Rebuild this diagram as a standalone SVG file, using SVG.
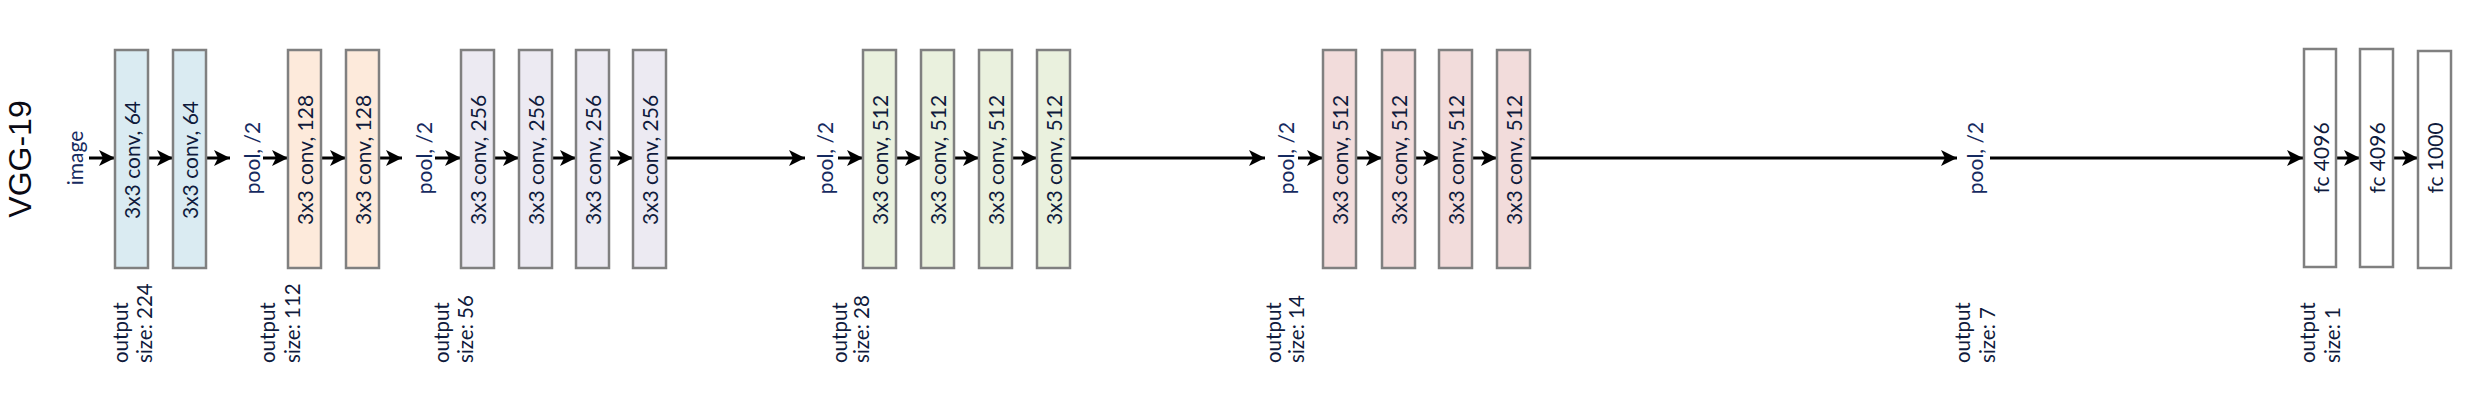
<svg xmlns="http://www.w3.org/2000/svg" width="2476" height="400" viewBox="0 0 2476 400">
<style>
  .box { stroke: #808080; stroke-width: 2.5; }
  .blue { fill: #DAEBF2; }
  .peach { fill: #FDEADB; }
  .lav { fill: #ECEAF2; }
  .green { fill: #EAF1DE; }
  .pink { fill: #F2DCDB; }
  .white { fill: #FFFFFF; }
  .lbl { font-family: Lato, "Liberation Sans", sans-serif; font-size: 21px; fill: #0f1a3c; text-anchor: middle; dominant-baseline: central; }
  .pool { font-family: Lato, "Liberation Sans", sans-serif; font-size: 21px; fill: #152a60; text-anchor: middle; dominant-baseline: central; }
  .out { font-family: Lato, "Liberation Sans", sans-serif; font-size: 20.5px; fill: #0f1a3c; text-anchor: start; dominant-baseline: central; }
  .title { font-family: "Liberation Sans", Arial, sans-serif; font-size: 32px; fill: #0a0a14; text-anchor: middle; dominant-baseline: central; }
  .conn { stroke: #000000; stroke-width: 3; fill: none; marker-end: url(#ah); }
</style>
<defs>
  <marker id="ah" markerUnits="userSpaceOnUse" markerWidth="17" markerHeight="18" refX="16" refY="9" orient="auto">
    <path d="M0,1 L16,9 L0,17 L4,9 Z" fill="#000000"/>
  </marker>
</defs>
<rect width="2476" height="400" fill="#FFFFFF"/>

<text class="title" transform="translate(20,159) rotate(-90)">VGG-19</text>
<g id="image"><text class="pool" transform="translate(74,158) rotate(-90)">image</text></g>

<g id="connectors">
  <line class="conn" x1="89" y1="158" x2="115" y2="158"/>
  <line class="conn" x1="148" y1="158" x2="173" y2="158"/>
  <line class="conn" x1="206" y1="158" x2="230" y2="158"/>
  <line class="conn" x1="263" y1="158" x2="288" y2="158"/>
  <line class="conn" x1="321" y1="158" x2="346" y2="158"/>
  <line class="conn" x1="379" y1="158" x2="402" y2="158"/>
  <line class="conn" x1="435" y1="158" x2="461" y2="158"/>
  <line class="conn" x1="494" y1="158" x2="519" y2="158"/>
  <line class="conn" x1="552" y1="158" x2="576" y2="158"/>
  <line class="conn" x1="609" y1="158" x2="633" y2="158"/>
  <line class="conn" x1="666" y1="158" x2="805" y2="158"/>
  <line class="conn" x1="838" y1="158" x2="863" y2="158"/>
  <line class="conn" x1="896" y1="158" x2="921" y2="158"/>
  <line class="conn" x1="954" y1="158" x2="979" y2="158"/>
  <line class="conn" x1="1012" y1="158" x2="1037" y2="158"/>
  <line class="conn" x1="1070" y1="158" x2="1265" y2="158"/>
  <line class="conn" x1="1298" y1="158" x2="1323" y2="158"/>
  <line class="conn" x1="1356" y1="158" x2="1382" y2="158"/>
  <line class="conn" x1="1415" y1="158" x2="1439" y2="158"/>
  <line class="conn" x1="1472" y1="158" x2="1497" y2="158"/>
  <line class="conn" x1="1530" y1="158" x2="1957" y2="158"/>
  <line class="conn" x1="1990" y1="158" x2="2303" y2="158"/>
  <line class="conn" x1="2336" y1="158" x2="2360" y2="158"/>
  <line class="conn" x1="2393" y1="158" x2="2418" y2="158"/>
</g>

<g id="conv1_1"><rect class="box blue" x="115" y="50" width="33" height="218"/><text class="lbl" transform="translate(131.5,160) rotate(-90)">3x3 conv, 64</text></g>
<g id="conv1_2"><rect class="box blue" x="173" y="50" width="33" height="218"/><text class="lbl" transform="translate(189.5,160) rotate(-90)">3x3 conv, 64</text></g>
<g id="pool1"><text class="pool" transform="translate(251,158) rotate(-90)">pool, /2</text></g>
<g id="conv2_1"><rect class="box peach" x="288" y="50" width="33" height="218"/><text class="lbl" transform="translate(304.5,160) rotate(-90)">3x3 conv, 128</text></g>
<g id="conv2_2"><rect class="box peach" x="346" y="50" width="33" height="218"/><text class="lbl" transform="translate(362.5,160) rotate(-90)">3x3 conv, 128</text></g>
<g id="pool2"><text class="pool" transform="translate(423,158) rotate(-90)">pool, /2</text></g>
<g id="conv3_1"><rect class="box lav" x="461" y="50" width="33" height="218"/><text class="lbl" transform="translate(477.5,160) rotate(-90)">3x3 conv, 256</text></g>
<g id="conv3_2"><rect class="box lav" x="519" y="50" width="33" height="218"/><text class="lbl" transform="translate(535.5,160) rotate(-90)">3x3 conv, 256</text></g>
<g id="conv3_3"><rect class="box lav" x="576" y="50" width="33" height="218"/><text class="lbl" transform="translate(592.5,160) rotate(-90)">3x3 conv, 256</text></g>
<g id="conv3_4"><rect class="box lav" x="633" y="50" width="33" height="218"/><text class="lbl" transform="translate(649.5,160) rotate(-90)">3x3 conv, 256</text></g>
<g id="pool3"><text class="pool" transform="translate(824,158) rotate(-90)">pool, /2</text></g>
<g id="conv4_1"><rect class="box green" x="863" y="50" width="33" height="218"/><text class="lbl" transform="translate(879.5,160) rotate(-90)">3x3 conv, 512</text></g>
<g id="conv4_2"><rect class="box green" x="921" y="50" width="33" height="218"/><text class="lbl" transform="translate(937.5,160) rotate(-90)">3x3 conv, 512</text></g>
<g id="conv4_3"><rect class="box green" x="979" y="50" width="33" height="218"/><text class="lbl" transform="translate(995.5,160) rotate(-90)">3x3 conv, 512</text></g>
<g id="conv4_4"><rect class="box green" x="1037" y="50" width="33" height="218"/><text class="lbl" transform="translate(1053.5,160) rotate(-90)">3x3 conv, 512</text></g>
<g id="pool4"><text class="pool" transform="translate(1285,158) rotate(-90)">pool, /2</text></g>
<g id="conv5_1"><rect class="box pink" x="1323" y="50" width="33" height="218"/><text class="lbl" transform="translate(1339.5,160) rotate(-90)">3x3 conv, 512</text></g>
<g id="conv5_2"><rect class="box pink" x="1382" y="50" width="33" height="218"/><text class="lbl" transform="translate(1398.5,160) rotate(-90)">3x3 conv, 512</text></g>
<g id="conv5_3"><rect class="box pink" x="1439" y="50" width="33" height="218"/><text class="lbl" transform="translate(1455.5,160) rotate(-90)">3x3 conv, 512</text></g>
<g id="conv5_4"><rect class="box pink" x="1497" y="50" width="33" height="218"/><text class="lbl" transform="translate(1513.5,160) rotate(-90)">3x3 conv, 512</text></g>
<g id="pool5"><text class="pool" transform="translate(1974,158) rotate(-90)">pool, /2</text></g>
<g id="fc1"><rect class="box white" x="2304" y="49" width="32" height="218"/><text class="lbl" transform="translate(2320,158) rotate(-90)">fc 4096</text></g>
<g id="fc2"><rect class="box white" x="2360" y="49" width="33" height="218"/><text class="lbl" transform="translate(2376.5,158) rotate(-90)">fc 4096</text></g>
<g id="fc3"><rect class="box white" x="2418" y="51" width="33" height="217"/><text class="lbl" transform="translate(2434.5,158) rotate(-90)">fc 1000</text></g>

<g id="outputs">
  <text class="out" transform="translate(120,363) rotate(-90)">output</text>
  <text class="out" transform="translate(144,363) rotate(-90)">size: 224</text>
  <text class="out" transform="translate(267,363) rotate(-90)">output</text>
  <text class="out" transform="translate(292,363) rotate(-90)">size: 112</text>
  <text class="out" transform="translate(441,363) rotate(-90)">output</text>
  <text class="out" transform="translate(465,363) rotate(-90)">size: 56</text>
  <text class="out" transform="translate(839,363) rotate(-90)">output</text>
  <text class="out" transform="translate(861,363) rotate(-90)">size: 28</text>
  <text class="out" transform="translate(1273,363) rotate(-90)">output</text>
  <text class="out" transform="translate(1296,363) rotate(-90)">size: 14</text>
  <text class="out" transform="translate(1962,363) rotate(-90)">output</text>
  <text class="out" transform="translate(1987,363) rotate(-90)">size: 7</text>
  <text class="out" transform="translate(2307,363) rotate(-90)">output</text>
  <text class="out" transform="translate(2332,363) rotate(-90)">size: 1</text>
</g>
</svg>
